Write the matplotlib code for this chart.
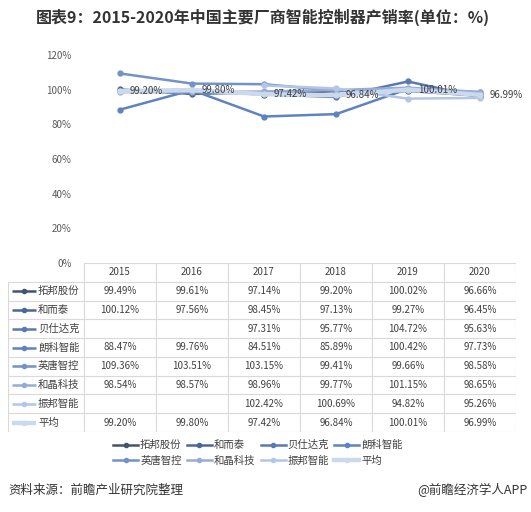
import matplotlib
matplotlib.use("Agg")
import matplotlib.pyplot as plt
from matplotlib.lines import Line2D
import numpy as np

plt.rcParams['font.family'] = ['Noto Sans CJK SC', 'DejaVu Sans']

years = ['2015', '2016', '2017', '2018', '2019', '2020']
companies = ['拓邦股份', '和而泰', '贝仕达克', '朗科智能', '英唐智控', '和晶科技', '振邦智能', '平均']
tuobang = [99.49, 99.61, 97.14, 99.20, 100.02, 96.66]
heertai = [100.12, 97.56, 98.45, 97.13, 99.27, 96.45]
beishida = [None, None, 97.31, 95.77, 104.72, 95.63]
langke = [88.47, 99.76, 84.51, 85.89, 100.42, 97.73]
yingtang = [109.36, 103.51, 103.15, 99.41, 99.66, 98.58]
hejing = [98.54, 98.57, 98.96, 99.77, 101.15, 98.65]
zhenbang = [None, None, 102.42, 100.69, 94.82, 95.26]
average = [99.20, 99.80, 97.42, 96.84, 100.01, 96.99]
series = [tuobang, heertai, beishida, langke, yingtang, hejing, zhenbang, average]
yticks = [0, 20, 40, 60, 80, 100, 120]

colors = ['#44546A', '#4A6797', '#5A79AE', '#5E83C0', '#7393C8', '#95ACD6', '#B4C6E4', '#CCD8EC']
lws = [1.8, 1.8, 1.8, 1.8, 1.8, 1.8, 1.8, 3.2]

W, H = 531, 512
fig = plt.figure(figsize=(W / 100, H / 100), dpi=100)

def fx(px):
    return px / W

def fy(py):
    return 1 - py / H

# main plot axes
ax = fig.add_axes([fx(84), fy(263), fx(516 - 84), (263 - 55) / H])
x = np.arange(len(years))
for s, c, lw in zip(series, colors, lws):
    vals = np.array([np.nan if v is None else v for v in s], dtype=float)
    ax.plot(x, vals, color=c, lw=lw, marker='o', ms=3.5, mec=c, mfc=c, zorder=3)
for xi, v in zip(x, average):
    ax.annotate(f'{v:.2f}%', (xi, v), xytext=(7, 0), textcoords='offset points',
                ha='left', va='center', fontsize=7, color='#404040', zorder=5)
ax.set_xlim(-0.5, 5.5)
ax.set_ylim(0, 120)
ax.set_yticks(yticks)
ax.set_yticklabels([f'{t}%' for t in yticks], fontsize=7, color='#595959')
ax.set_xticks([])
ax.tick_params(axis='y', length=0, pad=9)
for sp in ax.spines.values():
    sp.set_visible(False)

# data table
top_px, bot_px = 263, 432
nrows = len(companies) + 1
unit_px = 72.0
left_unit = -0.5 - (84 - 8) / unit_px
tax = fig.add_axes([fx(8), fy(bot_px), fx(516 - 8), (bot_px - top_px) / H])
tax.set_xlim(left_unit, 5.5)
tax.set_ylim(nrows, 0)
tax.axis('off')
gc = '#D9D9D9'
tax.plot([-0.5, 5.5], [0, 0], color=gc, lw=0.8)
for r in range(1, nrows + 1):
    tax.plot([left_unit, 5.5], [r, r], color=gc, lw=0.8)
tax.plot([left_unit, left_unit], [1, nrows], color=gc, lw=0.8)
for b in np.arange(-0.5, 6.0, 1.0):
    tax.plot([b, b], [0, nrows], color=gc, lw=0.8)
for j, yr in enumerate(years):
    tax.text(j, 0.5, yr, ha='center', va='center', fontsize=7, color='#404040')
for i, (name, s, c, lw) in enumerate(zip(companies, series, colors, lws)):
    yy = i + 1.5
    k0 = left_unit + 4 / unit_px
    k1 = left_unit + 28 / unit_px
    tax.plot([k0, k1], [yy, yy], color=c, lw=lw, solid_capstyle='butt')
    tax.plot([(k0 + k1) / 2], [yy], marker='o', ms=3, color=c)
    tax.text(left_unit + 30 / unit_px, yy, name, ha='left', va='center', fontsize=7.5, color='#404040')
    for j, v in enumerate(s):
        if v is not None:
            tax.text(j, yy, f'{v:.2f}%', ha='center', va='center', fontsize=7, color='#404040')

# legend (row-wise order)
order = [0, 4, 1, 5, 2, 6, 3, 7]
leg_handles = [Line2D([0], [0], color=colors[k], lw=lws[k], marker='o', ms=3, mfc=colors[k], mec=colors[k]) for k in order]
leg = fig.legend(leg_handles, [companies[k] for k in order], ncol=4, loc='center',
                 bbox_to_anchor=(fx(258), fy(453)), frameon=False, fontsize=7.5,
                 handlelength=2.4, handletextpad=0.2, columnspacing=0.5, labelspacing=0.55)
for t in leg.get_texts():
    t.set_color('#404040')

fig.text(fx(263), fy(17), '图表9：2015-2020年中国主要厂商智能控制器产销率(单位：%)', ha='center', va='center',
         fontsize=11.5, fontweight='bold', color='#333333')
fig.text(fx(8), fy(490), '资料来源：前瞻产业研究院整理', ha='left', va='center', fontsize=9, color='#333333')
fig.text(fx(528), fy(490), '@前瞻经济学人APP', ha='right', va='center', fontsize=9, color='#333333')

fig.savefig('out.png', dpi=100, facecolor='white')
